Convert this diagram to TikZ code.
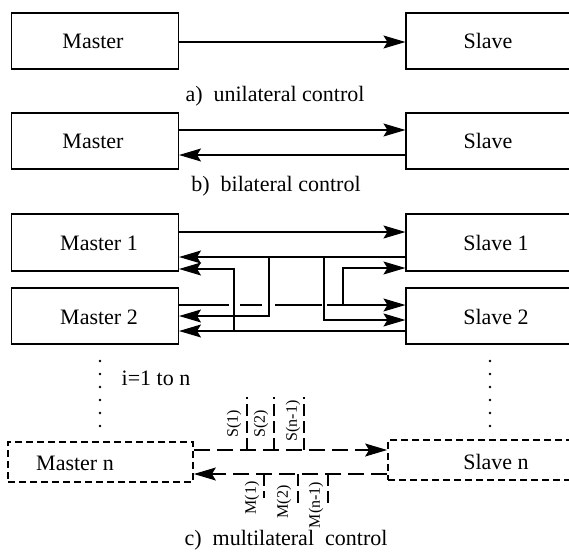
\documentclass[tikz,border=0pt]{standalone}
\usepackage{fontspec}
\setmainfont{Liberation Serif}
\usetikzlibrary{arrows.meta}
\begin{document}
\begin{tikzpicture}[x=1pt,y=-1pt,
  box/.style={draw, line width=1.1pt, rectangle, inner sep=0pt},
  dbox/.style={draw, line width=1.8pt, dash pattern=on 7pt off 4pt, rectangle, inner sep=0pt},
  txt/.style={font=\fontsize{22}{26}\selectfont, inner sep=0pt},
  sig/.style={line width=1.1pt},
  tip/.style={-{Stealth[length=22pt,width=13pt,inset=4pt]}},
  dsig/.style={line width=1.1pt, dash pattern=on 16pt off 7pt},
  dtick/.style={line width=1.1pt, dash pattern=on 12pt off 5pt},
  lab/.style={font=\fontsize{16}{19}\selectfont, rotate=90, inner sep=0pt}]
\useasboundingbox (0,0) rectangle (569,554);

% ---------- a) unilateral control ----------
\node[box, minimum width=167pt, minimum height=56pt] (Ma) at (95,41) {};
\node[box, minimum width=214pt, minimum height=56pt] (Sa) at (513,41) {};
\node[txt] (tMa) at (93,41) {Master};
\node[txt] (tSa) at (488,41) {Slave};
\draw[sig,tip] (Ma.east |- 0,42) -- (Sa.west |- 0,42);
\node[txt] (capa) at (275,96) {a)\enspace unilateral control};

% ---------- b) bilateral control ----------
\node[box, minimum width=167pt, minimum height=56pt] (Mb) at (95,141) {};
\node[box, minimum width=214pt, minimum height=56pt] (Sb) at (513,141) {};
\node[txt] (tMb) at (93,141) {Master};
\node[txt] (tSb) at (488,141) {Slave};
\draw[sig,tip] (Mb.east |- 0,130) -- (Sb.west |- 0,130);
\draw[sig,tip] (Sb.west |- 0,155) -- (Mb.east |- 0,155);
\node[txt] (capb) at (276,186) {b)\enspace bilateral control};

% ---------- c) multilateral control ----------
\node[box, minimum width=167pt, minimum height=57pt] (M1) at (95,242.5) {};
\node[box, minimum width=167pt, minimum height=56pt] (M2) at (95,316) {};
\node[box, minimum width=214pt, minimum height=57pt] (S1) at (513,242.5) {};
\node[box, minimum width=214pt, minimum height=56pt] (S2) at (513,316) {};
\node[txt] (tM1) at (99,243) {Master 1};
\node[txt] (tM2) at (99,317) {Master 2};
\node[txt] (tS1) at (496,243) {Slave 1};
\node[txt] (tS2) at (496,317) {Slave 2};

% master 1 -> slave 1
\draw[sig,tip] (M1.east |- 0,232) -- (S1.west |- 0,232);
% slave 1 -> master 1, with branches to master 2 and slave 2
\coordinate (j1) at (269,257);
\coordinate (j2) at (324,257);
\draw[sig,tip] (S1.west |- 0,257) -- (M1.east |- 0,257);
\draw[sig,tip] (j1) -- (j1 |- 0,316) -- (M2.east |- 0,316);
\draw[sig,tip] (j2) -- (j2 |- 0,320) -- (S2.west |- 0,320);
% master 2 -> slave 2 (broken where the branches cross), with branch to slave 1
\coordinate (j3) at (343,305);
\draw[sig] (M2.east |- 0,305) -- (229,305);
\draw[sig] (240,305) -- (262,305);
\draw[sig] (275,305) -- (322,305);
\draw[sig,tip] (327,305) -- (S2.west |- 0,305);
\draw[sig,tip] (j3) -- (j3 |- 0,268) -- (S1.west |- 0,268);
% slave 2 -> master 2, with branch to master 1
\coordinate (j4) at (234,331);
\draw[sig,tip] (S2.west |- 0,331) -- (M2.east |- 0,331);
\draw[sig,tip] (j4) -- (j4 |- 0,269) -- (M1.east |- 0,269);

% continuation dots
\foreach \yy in {361,374,387,400,413,426} {
  \fill (100,\yy) circle (1.4pt);
  \fill (490,\yy) circle (1.4pt);
}
\node[txt] (range) at (156,378) {i=1 to n};

% n-th pair
\node[dbox, minimum width=185pt, minimum height=40pt] (Mn) at (100.5,462) {};
\node[dbox, minimum width=232pt, minimum height=40pt] (Sn) at (504,460) {};
\node[txt] (tMn) at (75,463) {Master n};
\node[txt] (tSn) at (496,462) {Slave n};
\draw[dsig,tip] (Mn.east |- 0,450) -- (Sn.west |- 0,450);
\draw[dsig,tip] (Sn.west |- 0,474) -- (Mn.east |- 0,474);

% slave inputs S(i)
\coordinate (s1) at (247,450);
\coordinate (s2) at (274,450);
\coordinate (s3) at (304,450);
\foreach \c in {s1,s2,s3} \draw[dtick] (\c) -- (\c |- 0,397);
\node[lab] (ls1) at (234,424) {S(1)};
\node[lab] (ls2) at (261,424) {S(2)};
\node[lab] (ls3) at (293,421) {S(n-1)};

% master inputs M(i)
\coordinate (m1) at (264,474);
\coordinate (m2) at (298,474);
\coordinate (m3) at (328,474);
\draw[dtick] (m1) -- (m1 |- 0,498);
\draw[dtick] (m2) -- (m2 |- 0,505);
\draw[dtick] (m3) -- (m3 |- 0,505);
\node[lab] (lm1) at (252,498) {M(1)};
\node[lab] (lm2) at (284,502) {M(2)};
\node[lab] (lm3) at (316,505) {M(n-1)};

\node[txt] (capc) at (286,540) {c)\enspace multilateral\enspace control};
\end{tikzpicture}
\end{document}
